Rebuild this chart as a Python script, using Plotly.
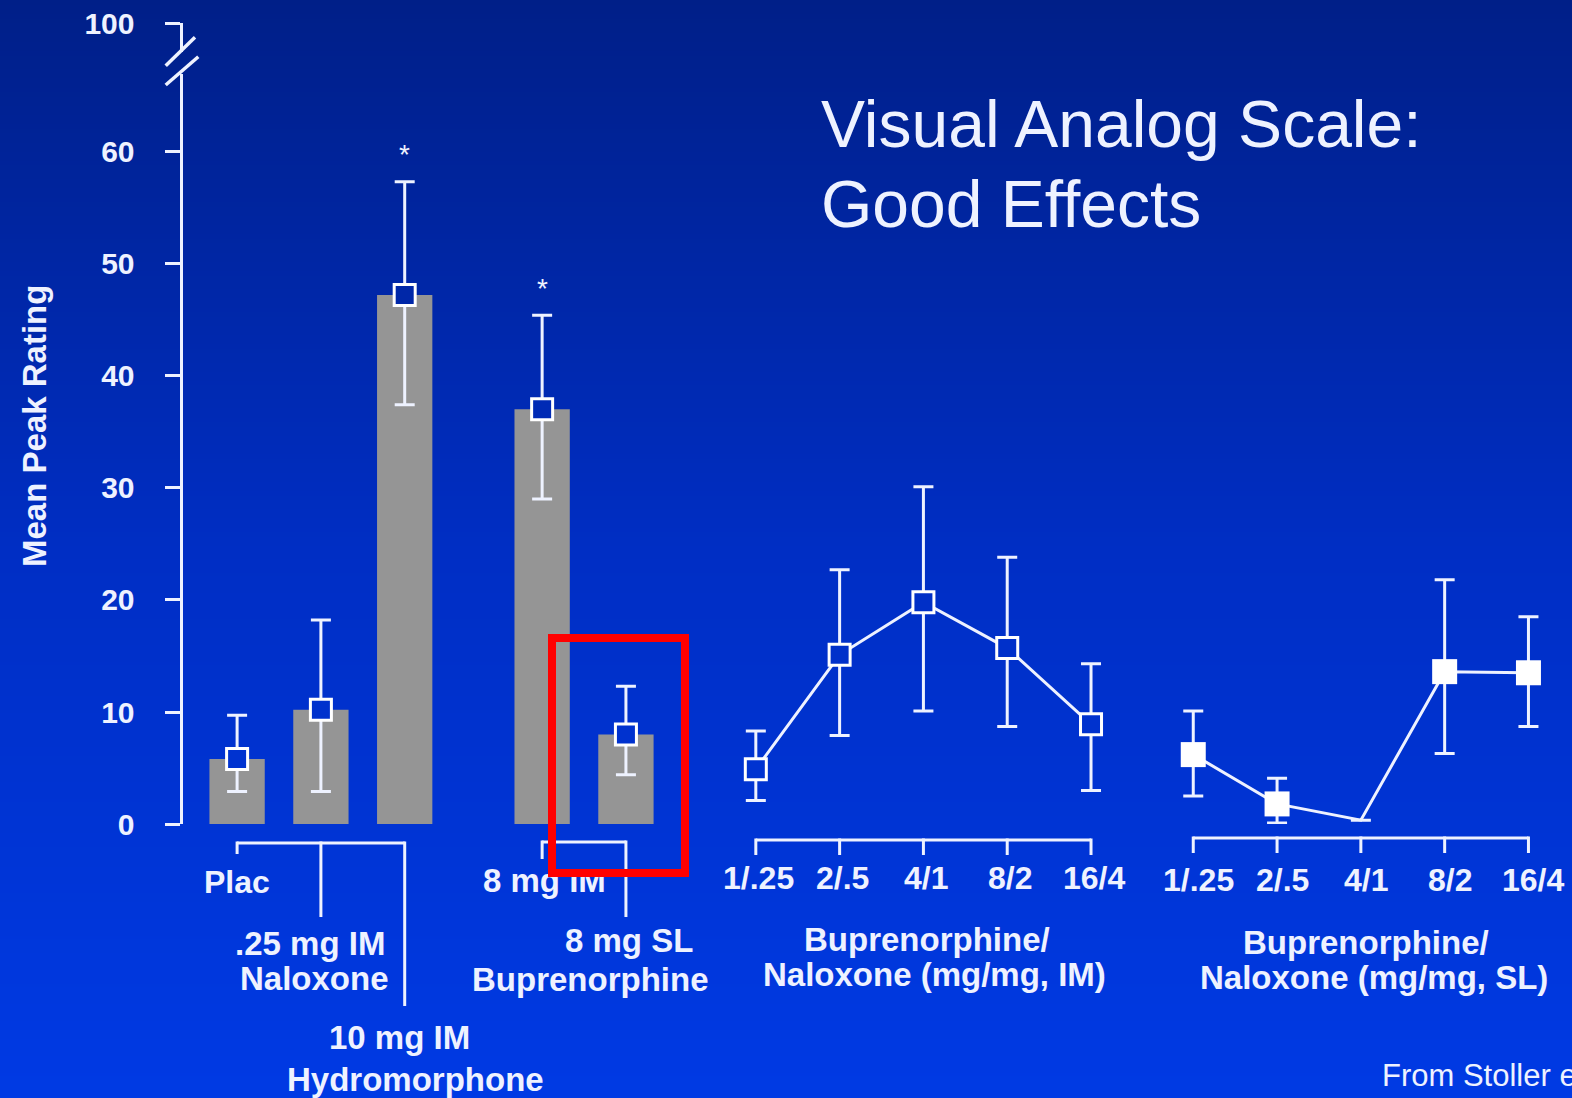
import base64
import struct
import zlib
import plotly.graph_objects as go

W, H = 1572, 1098

# ---------------- data ----------------
bar_labels = ["Plac", ".25 mg IM Naloxone", "10 mg IM Hydromorphone",
              "8 mg IM Buprenorphine", "8 mg SL Buprenorphine"]
bar_mean = [5.8, 10.2, 47.2, 37.0, 8.0]
bar_hi = [9.7, 18.2, 57.3, 45.4, 12.3]
bar_lo = [2.9, 2.9, 37.4, 29.0, 4.4]
bar_sig = [False, False, True, True, False]

dose_labels = ["1/.25", "2/.5", "4/1", "8/2", "16/4"]
im_mean = [4.9, 15.1, 19.8, 15.7, 8.9]
im_hi = [8.3, 22.7, 30.1, 23.8, 14.3]
im_lo = [2.1, 7.9, 10.1, 8.7, 3.0]
sl_mean = [6.2, 1.8, 0.35, 13.6, 13.5]
sl_hi = [10.1, 4.1, None, 21.8, 18.5]
sl_lo = [2.5, 0.1, None, 6.3, 8.7]

y_ticks = [0, 10, 20, 30, 40, 50, 60]
y_top_tick = [100]

# ---------------- layout helpers ----------------
SLOT = 83.8                      # px per category slot
X_START = -237.1 / SLOT          # x-range start so first bar sits at 237 px
X_END = X_START + W / SLOT
BAR_POS = [0, 1, 2, 3.64, 4.64]
IM_POS = [6.19 + i for i in range(len(dose_labels))]
SL_POS = [11.41 + i for i in range(len(dose_labels))]

Y0_PX, PX_PER_UNIT = 824.1, 11.21
MAIN_TOP_PX = 74.0
TOP_AX = (23.3, 52.0)            # pixel extent of the upper (100) axis stub
AXIS_X_PX = 180.5

WHITE = "rgba(238,242,255,1)"
FONT = "Liberation Sans, Arial, Helvetica, sans-serif"


def pp(py):
    return 1 - py / H


def px(x):
    return x / W


STOPS = [(0, (0, 31, 136)), (550, (0, 46, 196)), (H, (0, 58, 228))]


def bg_at(py):
    for (y0, c0), (y1, c1) in zip(STOPS[:-1], STOPS[1:]):
        if py <= y1:
            t = (py - y0) / (y1 - y0)
            return tuple(round(a + (b - a) * t) for a, b in zip(c0, c1))
    return STOPS[-1][1]


def gradient_png():
    raw = b""
    for i in range(H):
        r, g, b = bg_at(i)
        raw += b"\x00" + bytes([r, g, b, r, g, b])

    def chunk(tag, data):
        return (struct.pack(">I", len(data)) + tag + data +
                struct.pack(">I", zlib.crc32(tag + data) & 0xFFFFFFFF))
    png = (b"\x89PNG\r\n\x1a\n" +
           chunk(b"IHDR", struct.pack(">IIBBBBB", 2, H, 8, 2, 0, 0, 0)) +
           chunk(b"IDAT", zlib.compress(raw)) + chunk(b"IEND", b""))
    return "data:image/png;base64," + base64.b64encode(png).decode()


def val_px(v):
    return Y0_PX - v * PX_PER_UNIT


def err_plus(m, h):
    return [None if b is None else b - a for a, b in zip(m, h)]


def err_minus(m, lo):
    return [None if b is None else a - b for a, b in zip(m, lo)]


ERR_STYLE = dict(type="data", symmetric=False, color=WHITE, thickness=3, width=10)

fig = go.Figure()

# bars
fig.add_trace(go.Bar(
    x=BAR_POS, y=bar_mean, width=0.66, marker=dict(color="#959595", line=dict(width=0)),
    cliponaxis=False, hoverinfo="skip", text=bar_labels, textposition="none"))

# bar means (hollow squares) with error bars
fig.add_trace(go.Scatter(
    x=BAR_POS, y=bar_mean, mode="markers", cliponaxis=False,
    error_y=dict(array=err_plus(bar_mean, bar_hi), arrayminus=err_minus(bar_mean, bar_lo), **ERR_STYLE),
    marker=dict(symbol="square", size=21, opacity=1,
                color=["rgb(%d,%d,%d)" % bg_at(val_px(v)) for v in bar_mean],
                line=dict(color="white", width=3))))

# IM line (hollow squares)
fig.add_trace(go.Scatter(
    x=IM_POS, y=im_mean, mode="lines+markers", cliponaxis=False,
    line=dict(color=WHITE, width=3),
    error_y=dict(array=err_plus(im_mean, im_hi), arrayminus=err_minus(im_mean, im_lo), **ERR_STYLE),
    marker=dict(symbol="square", size=21, opacity=1,
                color=["rgb(%d,%d,%d)" % bg_at(val_px(v)) for v in im_mean],
                line=dict(color="white", width=3))))

# SL line (filled squares)
fig.add_trace(go.Scatter(
    x=SL_POS, y=sl_mean, mode="lines+markers", cliponaxis=False,
    line=dict(color=WHITE, width=3),
    error_y=dict(array=err_plus(sl_mean, sl_hi), arrayminus=err_minus(sl_mean, sl_lo), **ERR_STYLE),
    marker=dict(symbol="square", size=[25, 25, 0, 25, 25], color="white", opacity=1,
                line=dict(color="white", width=0))))

# helper so the upper axis stub (100) gets drawn
fig.add_trace(go.Scatter(x=[BAR_POS[0]], y=y_top_tick, yaxis="y2", mode="markers",
                         marker=dict(opacity=0), hoverinfo="skip"))

axis_common = dict(
    anchor="free", position=px(AXIS_X_PX), showline=True, linecolor=WHITE, linewidth=3,
    ticks="outside", ticklen=15, tickwidth=3, tickcolor=WHITE, showgrid=False,
    zeroline=False, ticklabelstandoff=24, automargin=False,
    tickfont=dict(family=FONT, size=30, color=WHITE, weight="bold"))

main_top_val = (Y0_PX - MAIN_TOP_PX) / PX_PER_UNIT
top_lo_val = y_top_tick[0] - (TOP_AX[1] - TOP_AX[0]) / PX_PER_UNIT

fig.update_layout(
    width=W, height=H, margin=dict(l=0, r=0, t=0, b=0, pad=0),
    paper_bgcolor="rgb(0,46,196)", plot_bgcolor="rgba(0,0,0,0)",
    showlegend=False,
    xaxis=dict(range=[X_START, X_END], domain=[0, 1], visible=False, fixedrange=True),
    yaxis=dict(range=[0, main_top_val], domain=[pp(Y0_PX), pp(MAIN_TOP_PX)],
               tickvals=y_ticks, **axis_common),
    yaxis2=dict(range=[top_lo_val, y_top_tick[0] + 0.05],
                domain=[pp(TOP_AX[1]), pp(TOP_AX[0] - 0.56)],
                tickvals=y_top_tick, **axis_common),
    images=[dict(source=gradient_png(), xref="paper", yref="paper", x=0, y=1,
                 sizex=1, sizey=1, sizing="stretch", xanchor="left", yanchor="top",
                 layer="below")],
)

shapes = []
# axis break slashes
for (x0, y0, x1, y1) in [(165.7, 65.7, 195.0, 37.3), (165.7, 85.0, 198.3, 56.7)]:
    shapes.append(dict(type="line", xref="paper", yref="paper",
                       x0=px(x0), y0=pp(y0), x1=px(x1), y1=pp(y1),
                       line=dict(color=WHITE, width=3.5)))

# category brackets under the axis
brackets = [
    (BAR_POS[:3], 843, [854, 917, 1006]),
    (BAR_POS[3:], 842, [859, 917]),
    (IM_POS, 840, [855] * 5),
    (SL_POS, 838, [853] * 5),
]
for pos, ybr, ends in brackets:
    shapes.append(dict(type="line", xref="x", yref="paper", x0=pos[0], x1=pos[-1],
                       y0=pp(ybr), y1=pp(ybr), line=dict(color=WHITE, width=3)))
    for p, e in zip(pos, ends):
        shapes.append(dict(type="line", xref="x", yref="paper", x0=p, x1=p,
                           y0=pp(ybr - 1.5), y1=pp(e), line=dict(color=WHITE, width=3)))
fig.update_layout(shapes=shapes)

ann = []


def label(text, x, y_px, xshift=0, size=33, bold=True, xref="x", xanchor="center"):
    ann.append(dict(text=text, x=x, y=pp(y_px), xref=xref, yref="paper",
                    xanchor=xanchor, yanchor="middle", xshift=xshift, showarrow=False,
                    font=dict(family=FONT, size=size, color=WHITE,
                              weight="bold" if bold else "normal")))


# group 1/2 labels
label("Plac", BAR_POS[0], 882, size=32)
label(".25 mg IM", BAR_POS[1], 943, xshift=-11)
label("Naloxone", BAR_POS[1], 978, xshift=-6)
label("10 mg IM", BAR_POS[2], 1037, xshift=-5)
label("Hydromorphone", BAR_POS[2], 1079, xshift=11)
label("8 mg IM", BAR_POS[3], 880, xshift=2)
label("8 mg SL", BAR_POS[4], 940, xshift=3)
label("Buprenorphine", BAR_POS[4], 979, xshift=-35)

# dose tick labels
for p, t in zip(IM_POS, dose_labels):
    label(t, p, 878, xshift=3, size=32)
for p, t in zip(SL_POS, dose_labels):
    label(t, p, 880, xshift=5, size=32)
label("Buprenorphine/", IM_POS[2], 939, xshift=4)
label("Naloxone (mg/mg, IM)", IM_POS[2], 974, xshift=11)
label("Buprenorphine/", SL_POS[2], 942, xshift=5)
label("Naloxone (mg/mg, SL)", SL_POS[2], 977, xshift=13)

# significance asterisks
for p, h, s in zip(BAR_POS, bar_hi, bar_sig):
    if s:
        ann.append(dict(text="*", x=p, y=h, xref="x", yref="y", yanchor="middle",
                        yshift=27, showarrow=False,
                        font=dict(family=FONT, size=28, color=WHITE)))

# axis title
ann.append(dict(text="Mean Peak Rating", x=px(34), y=pp(426), xref="paper", yref="paper",
                textangle=-90, showarrow=False, xanchor="center", yanchor="middle",
                font=dict(family=FONT, size=33, color=WHITE, weight="bold")))

# slide title
label("Visual Analog Scale:", px(819), 124.5, size=66, bold=False, xref="paper", xanchor="left")
label("Good Effects", px(819), 204.5, size=66, bold=False, xref="paper", xanchor="left")

# source note (cut at the right edge, as in the reference)
label("From Stoller et al.", px(1380), 1075.5, size=31, bold=False, xref="paper", xanchor="left")

# red highlight box (drawn last so it sits over the labels)
ann.append(dict(text="", x=px(618.8), y=pp(755.0), xref="paper", yref="paper",
                xanchor="center", yanchor="middle", width=125, height=227, showarrow=False,
                borderpad=0, bordercolor="#ff0000", borderwidth=8, bgcolor="rgba(0,0,0,0)"))

fig.update_layout(annotations=ann)

fig.write_html("out.html", config={"displayModeBar": False},
               post_script="document.body.style.margin='0';")
